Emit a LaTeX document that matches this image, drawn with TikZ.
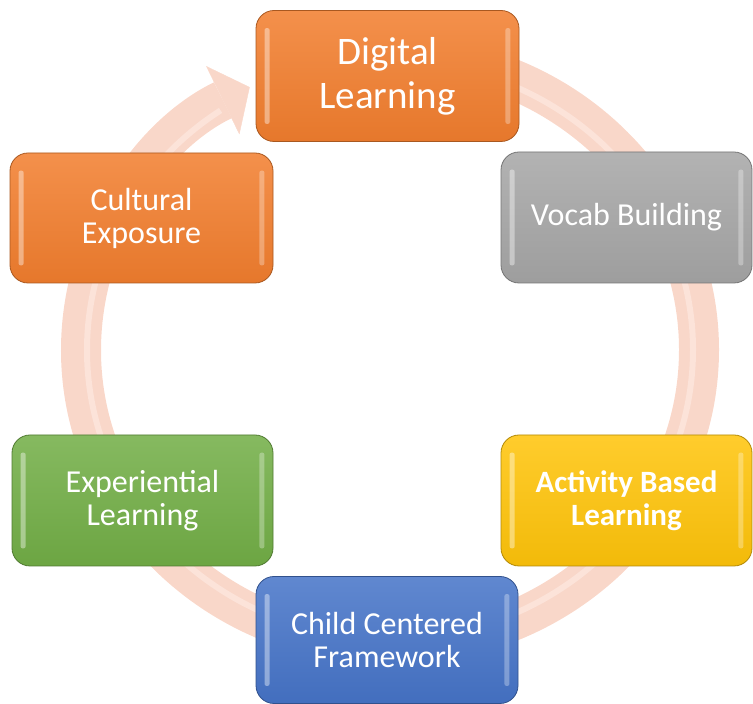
\documentclass[tikz,border=0pt]{standalone}
\usepackage{fontspec}
\setmainfont{Carlito}
\usetikzlibrary{arrows.meta}

\definecolor{orangeA}{RGB}{242,126,46}
\definecolor{grayA}{RGB}{166,166,166}
\definecolor{yellowA}{RGB}{255,196,10}
\definecolor{blueA}{RGB}{70,116,200}
\definecolor{greenA}{RGB}{114,174,70}
\definecolor{bandA}{RGB}{249,215,201}
\definecolor{bandB}{RGB}{252,227,217}

\tikzset{
  stage/.style={draw=#1!70!black, line width=0.8pt, rounded corners=18pt,
    top color=#1!86!white, bottom color=#1!95!black,
    minimum width=263pt, minimum height=131pt,
    text=white, align=center, font=\fontsize{32}{33}\selectfont},
  band/.style={line width=40pt, draw=bandA}
}

\begin{document}
\begin{tikzpicture}[x=1pt,y=1pt]
\useasboundingbox (0,0) rectangle (753,704);
\coordinate (hub) at (390,354);

% cycle arrow behind the boxes
\draw[band, -{Triangle[length=30pt,width=76pt,line width=0.4pt]}]
  (hub) ++(88:309 and 295) arc[start angle=88, end angle=-243, x radius=309, y radius=295];
\draw[line width=6pt, draw=bandB]
  (hub) ++(88:303 and 289) arc[start angle=88, end angle=-236, x radius=303, y radius=289];

% stages
\node[stage=orangeA, font=\fontsize{39}{44}\selectfont] (digital) at (387.5,628) {Digital\\Learning};
\node[stage=grayA, minimum width=251pt] (vocab) at (626.5,486.5) {Vocab Building};
\node[stage=yellowA, minimum width=251pt, font=\bfseries\fontsize{31}{33}\selectfont] (activity) at (626.5,203.5) {Activity Based\\Learning};
\node[stage=blueA, minimum width=262pt, minimum height=127pt] (child) at (387,64) {Child Centered\\Framework};
\node[stage=greenA, minimum width=261pt] (experiential) at (142.5,203.5) {Experiential\\Learning};
\node[stage=orangeA, minimum height=130pt] (cultural) at (141.5,486) {Cultural\\Exposure};

% bevel highlights
\foreach \n in {digital,vocab,activity,child,experiential,cultural}{
  \fill[white, opacity=.4, rounded corners=2pt]
    ([xshift=9pt,yshift=-18pt]\n.north west) rectangle ([xshift=14pt,yshift=18pt]\n.south west);
  \fill[white, opacity=.3, rounded corners=2pt]
    ([xshift=-9pt,yshift=-18pt]\n.north east) rectangle ([xshift=-14pt,yshift=18pt]\n.south east);
}
\end{tikzpicture}
\end{document}
